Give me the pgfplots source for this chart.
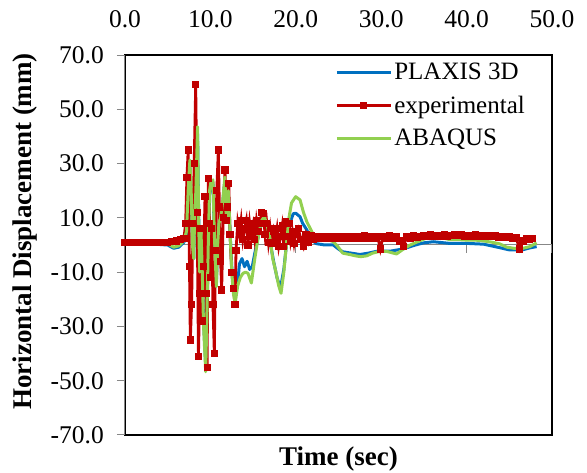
\documentclass[border=0pt]{standalone}
\usepackage{fontspec}
\setmainfont{Liberation Serif}
\usepackage{pgfplots}
\pgfplotsset{compat=1.18}
\definecolor{plaxis}{HTML}{0070C0}
\definecolor{expred}{HTML}{C00000}
\definecolor{abaqus}{HTML}{92D050}
\definecolor{axgray}{HTML}{878787}
\begin{document}
\begin{tikzpicture}
\draw[black, line width=1.4pt] (0pt,0pt) rectangle (427pt,380pt);
% zero line with ticks
\begin{axis}[at={(0pt,0pt)}, anchor=south west, scale only axis,
  width=427pt, height=380pt, xmin=0, xmax=50, ymin=-70, ymax=70,
  axis x line*=middle, axis y line=none,
  xtick={0,10,...,50}, xticklabels={}, ytick=\empty,
  tick align=outside, major tick length=8pt,
  axis line style={axgray, line width=1pt},
  tick style={axgray, line width=1pt}]
\end{axis}
\begin{axis}[at={(0pt,0pt)}, anchor=south west, scale only axis,
  width=427pt, height=380pt, xmin=0, xmax=50, ymin=-70, ymax=70,
  clip=false,
  axis x line*=top, axis y line*=left,
  x axis line style={draw=none},
  y axis line style={axgray, line width=1pt},
  xtick={0,10,...,50}, ytick={-70,-50,...,70},
  x tick style={draw=none},
  y tick style={axgray, line width=1pt},
  tick align=outside, major tick length=8pt,
  /pgf/number format/.cd, fixed, fixed zerofill, precision=1, assume math mode=true,
  /pgfplots/.cd,
  tick label style={font=\fontsize{25.5}{30}\selectfont},
  xticklabel style={anchor=south, inner sep=0pt, yshift=19pt},
  yticklabel style={anchor=east, inner sep=0pt, xshift=-13pt},
  xlabel={\textbf{Time (sec)}},
  ylabel={\textbf{Horizontal Displacement (mm)}},
  label style={font=\fontsize{27}{32}\selectfont},
  xlabel style={at={(rel axis cs:0.5,0)}, anchor=center, yshift=-24pt},
  ylabel style={at={(rel axis cs:0,0.5355)}, anchor=center, yshift=100pt},
  legend style={at={(rel axis cs:0.492,0.984)}, anchor=north west, draw=none, fill=none,
    font=\fontsize{25}{30}\selectfont, inner sep=0pt, row sep=10.5pt},
  legend cell align=left,
  legend image code/.code={\draw[mark repeat=2,mark phase=2,#1] plot coordinates {(0pt,0pt) (27pt,0pt) (54pt,0pt)};},
]
\addplot[plaxis, line width=3pt, line join=round] coordinates {
(0,0.3) (1,0.3) (2,0.3) (3,0.3) (4,0.2) (5,0) (5.7,-1.2) (6.3,-0.8) (6.9,1)
(7.2,4) (7.4,18) (7.6,29) (7.75,19) (7.9,0) (8.05,-5) (8.15,9) (8.3,19) (8.5,41)
(8.62,12) (8.75,-8) (8.9,4) (9.05,-10) (9.2,-28) (9.45,-44) (9.6,-24) (9.75,0)
(9.9,19) (10.05,22) (10.3,23) (10.45,5) (10.7,-14) (10.85,0) (11.0,8) (11.2,10)
(11.4,14) (11.7,24) (11.85,10) (12.0,12) (12.1,19) (12.3,5) (12.5,-8) (12.7,-14)
(12.9,-16) (13.2,-14) (13.4,-7) (13.7,-5) (14.0,-8) (14.3,-6) (14.6,-9) (14.9,-8)
(15.2,-3) (15.6,3) (16.0,8) (16.3,9.5) (16.6,7) (17.0,1) (17.4,-6) (17.8,-12)
(18.2,-16) (18.6,-9) (18.9,0) (19.3,8) (19.7,11.5) (20.0,11.7) (20.5,10.4)
(20.8,8) (21.3,5.5) (21.8,2) (22.4,0.5) (23.4,0) (24.4,0) (25.0,-1.5) (25.5,-2.5)
(26.5,-3) (27.5,-3.5) (28.5,-3) (29.5,-2.3) (31.0,-2.3) (32.5,-1.5) (34.0,0)
(35.0,0.8) (36.1,1.2) (38.0,0.6) (40.0,0.6) (42.0,0.3) (43.9,-1) (45.0,-1.8)
(46.5,-1.8) (47.5,-1) (48.2,-0.6)
};
\addlegendentry{PLAXIS 3D}
\addplot[expred, line width=2.8pt, mark=square*, mark size=2.2pt, mark options={solid}] coordinates {
(0,1) (0.5,1) (1,1) (1.5,1) (2,1) (2.5,1) (3,0.8) (3.5,1) (4,1) (4.5,1) (5,1)
(5.5,1.2) (6,1.5) (6.5,2) (6.9,2.5) (7.1,8) (7.25,25) (7.4,35) (7.55,-8) (7.65,-35)
(7.8,-22) (7.95,8) (8.1,30) (8.28,59) (8.45,12) (8.6,-41) (8.75,-18) (8.9,6)
(9.05,-28) (9.2,-8) (9.37,18) (9.5,-18) (9.62,-45) (9.75,24.6) (9.9,8) (10.0,-12)
(10.15,6) (10.3,-22) (10.46,-40) (10.6,-2) (10.75,20) (10.93,35) (11.05,14)
(11.2,-6) (11.32,-16.6) (11.5,10) (11.71,27.6) (11.85,9) (12.0,14) (12.15,22.7)
(12.3,4) (12.5,-10) (12.7,-16) (12.88,-22) (13.0,-2) (13.2,8) (13.4,4) (13.6,9)
(13.8,2) (14.0,6) (14.2,9) (14.4,0) (14.6,8) (14.8,3) (15.0,7) (15.2,2) (15.4,9)
(15.6,5) (15.8,8) (16.0,12) (16.2,11.7) (16.4,4) (16.6,8) (16.8,1) (17.0,6)
(17.2,0.5) (17.4,5) (17.6,2) (17.8,6) (18.0,-0.5) (18.2,3) (18.4,7) (18.6,-0.5)
(18.8,8.6) (19.0,3) (19.2,8) (19.4,1.5) (19.6,5) (19.8,0.5) (20.0,4) (20.3,6)
(20.6,2) (20.9,-0.6) (21.2,4) (21.5,1) (21.8,3.5) (22.1,2) (22.4,3) (22.8,2.5)
(23.2,3.2) (23.6,2.6) (24,3) (24.4,2.4) (24.8,3.2) (25.2,2.6) (25.6,3) (26,2.5)
(26.4,3.2) (26.8,2.4) (27.2,3) (27.6,2.6) (28,3.4) (28.4,2.6) (28.8,3) (29.2,2.5)
(29.6,3) (29.9,-1.5) (30.2,3) (30.6,2.5) (31,3.3) (31.4,2.6) (31.8,3) (32.2,1.5)
(32.6,-0.5) (33,3) (33.4,2.5) (33.8,3.3) (34.2,2.8) (34.6,3.2) (35,3.6) (35.4,3)
(35.8,3.8) (36.2,3.2) (36.6,3.6) (37,3) (37.4,3.8) (37.8,3.3) (38.2,3.6) (38.6,4)
(39,3.4) (39.4,3.8) (39.8,3.2) (40.2,3.6) (40.6,3.3) (41,3.8) (41.4,3.2) (41.8,3.6)
(42.2,3.1) (42.6,3.5) (43,3) (43.4,3.4) (43.8,2.8) (44.2,3.2) (44.6,2.7) (45,3)
(45.4,2.5) (45.8,2.8) (46.2,-1.5) (46.6,1.5) (47,2.5) (47.4,2) (47.7,2.5)
};
\addlegendentry{experimental}
\addplot[abaqus, line width=3pt, line join=round] coordinates {
(0,0.8) (1,0.8) (2,0.8) (3,0.8) (4,0.7) (5,0.5) (5.7,-0.8) (6.3,-0.3) (6.9,1.5)
(7.2,5) (7.4,20) (7.6,31.3) (7.75,20) (7.9,0) (8.05,-5) (8.15,10) (8.3,20)
(8.5,43.6) (8.62,10) (8.75,-10) (8.9,5) (9.05,-10) (9.2,-30) (9.45,-46.7)
(9.6,-25) (9.75,0) (9.9,20) (10.05,23) (10.3,24) (10.45,5) (10.7,-15.4) (10.85,0)
(11.0,8) (11.2,10) (11.4,15) (11.7,25) (11.85,10) (12.0,12) (12.1,20) (12.3,5)
(12.5,-10) (12.7,-18) (12.9,-21.4) (13.2,-15) (13.5,-12) (13.8,-10.5) (14.1,-10)
(14.4,-10.4) (14.8,-14) (15.2,-5) (15.6,3) (16.0,9) (16.3,10.4) (16.6,8) (17.0,2)
(17.3,-5) (17.6,-9) (18.0,-15) (18.27,-17.8) (18.6,-10) (18.9,0) (19.2,10)
(19.5,15.5) (19.98,17.8) (20.5,16.6) (20.9,12) (21.3,8.5) (21.7,6) (22.1,3.5)
(22.6,1.8) (23.2,1.8) (23.8,2) (24.4,1.2) (24.9,-0.5) (25.5,-3) (26.3,-3.5)
(27.0,-4) (27.6,-4.3) (28.3,-4) (29.0,-3) (29.9,-2.3) (30.7,-2.4) (31.8,-3.3)
(32.6,-1.5) (33.4,0) (34.5,1.5) (35.5,2.8) (36.1,3.3) (37.2,2.6) (38.0,2)
(39.0,2) (40.0,1.8) (41.0,1.8) (42.0,1.5) (43.0,1) (43.9,0.4) (44.7,-0.8)
(45.5,-1.2) (46.5,-1.3) (47.4,-0.6) (48.2,0.8)
};
\addlegendentry{ABAQUS}
\end{axis}
\pgfresetboundingbox
\useasboundingbox (-125pt,-38pt) rectangle (462pt,435pt);
\end{tikzpicture}
\end{document}
